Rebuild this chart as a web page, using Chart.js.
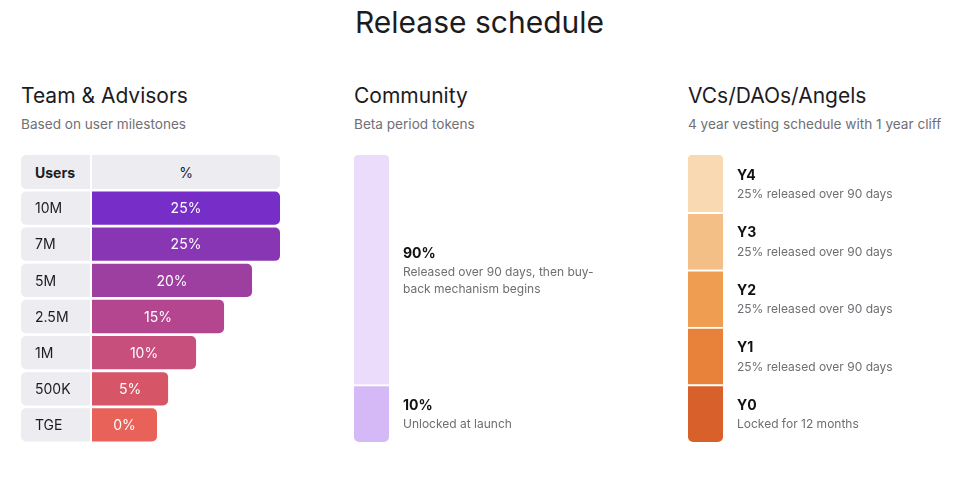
<!DOCTYPE html>
<html>
<head>
<meta charset="utf-8">
<script src="https://cdn.jsdelivr.net/npm/chart.js@4.4.1/dist/chart.umd.min.js"></script>
<style>
  body { margin: 0; width: 959px; height: 490px; background: #fff; position: relative; overflow: hidden;
         font-family: Inter, "Noto Sans", sans-serif; color: #1c1c1e; }
  .abs { position: absolute; }
  .title { left: 0; top: 5px; width: 959px; text-align: center; font-size: 30px; line-height: 34px; }
  .head { top: 84px; font-size: 21px; line-height: 24px; }
  .sub { top: 115px; font-size: 13.6px; line-height: 18px; color: #707075; }
  .cell { top: 155px; height: 34px; background: #ececf1; font-size: 14px; line-height: 35px; }
</style>
</head>
<body>
<div class="abs title">Release schedule</div>

<div class="abs head" style="left:21px">Team &amp; Advisors</div>
<div class="abs sub" style="left:21px">Based on user milestones</div>
<div class="abs head" style="left:354px">Community</div>
<div class="abs sub" style="left:354px">Beta period tokens</div>
<div class="abs head" style="left:688px">VCs/DAOs/Angels</div>
<div class="abs sub" style="left:688px">4 year vesting schedule with 1 year cliff</div>

<!-- header row of the milestone table -->
<div class="abs cell" style="left:21px;width:55px;padding-left:14px;font-weight:700;border-radius:5px 0 0 5px">Users</div>
<div class="abs cell" style="left:92px;width:188px;text-align:center;border-radius:0 5px 5px 0">%</div>

<canvas id="teamChart" class="abs" width="259" height="253" style="left:21px;top:190px"></canvas>
<canvas id="communityChart" class="abs" width="280" height="287" style="left:354px;top:155px"></canvas>
<canvas id="vcChart" class="abs" width="271" height="287" style="left:688px;top:155px"></canvas>

<script>
// Team & Advisors
const teamUsers = ['10M', '7M', '5M', '2.5M', '1M', '500K', 'TGE'];
const teamPct = [25, 25, 20, 15, 10, 5, 0];
const teamColors = ['#772ec8', '#8936b4', '#9d3fa0', '#b44690', '#c6507b', '#d65668', '#e8625a'];

// Community (bottom segment first)
const communityPct = [10, 90];
const communityTitles = ['10%', '90%'];
const communityNotes = [['Unlocked at launch'], ['Released over 90 days, then buy-', 'back mechanism begins']];
const communityColors = ['#d5b9f6', '#ebdcfb'];

// VCs/DAOs/Angels (bottom segment first)
const vcYears = ['Y0', 'Y1', 'Y2', 'Y3', 'Y4'];
const vcSpan = [1, 1, 1, 1, 1];
const vcNotes = ['Locked for 12 months', '25% released over 90 days', '25% released over 90 days',
                 '25% released over 90 days', '25% released over 90 days'];
const vcColors = ['#d8612b', '#e8823a', '#ef9e51', '#f3bf86', '#f8d9b1'];

const FONT = 'Inter, "Noto Sans", sans-serif';
Chart.defaults.font.family = FONT;

// bars start at the left of the plot, 0% still gets a stub
const teamAxisMin = -8.6;

// grey label cells and the row labels on the left
const teamCells = {
  id: 'teamCells',
  beforeDatasetsDraw(chart) {
    const ctx = chart.ctx;
    const meta = chart.getDatasetMeta(0);
    ctx.save();
    meta.data.forEach((bar, i) => {
      const top = bar.y - bar.height / 2;
      ctx.fillStyle = '#ececf1';
      ctx.beginPath();
      ctx.roundRect(0, top, 69, bar.height, [5, 0, 0, 5]);
      ctx.fill();
      ctx.fillStyle = '#1c1c1e';
      ctx.font = '14px ' + FONT;
      ctx.textBaseline = 'middle';
      ctx.textAlign = 'left';
      ctx.fillText(teamUsers[i], 14, bar.y + 1);
    });
    ctx.restore();
  },
  afterDatasetsDraw(chart) {
    const ctx = chart.ctx;
    const meta = chart.getDatasetMeta(0);
    ctx.save();
    ctx.fillStyle = '#fff';
    ctx.font = '14px ' + FONT;
    ctx.textAlign = 'center';
    ctx.textBaseline = 'middle';
    meta.data.forEach((bar, i) => {
      ctx.fillText(teamPct[i] + '%', (bar.base + bar.x) / 2, bar.y + 1);
    });
    ctx.restore();
  }
};

new Chart(document.getElementById('teamChart'), {
  type: 'bar',
  data: {
    labels: teamUsers,
    datasets: [{
      data: teamPct,
      backgroundColor: teamColors,
      base: teamAxisMin,
      minBarLength: 65,
      borderWidth: 0,
      borderSkipped: false,
      borderRadius: { topLeft: 0, bottomLeft: 0, topRight: 5, bottomRight: 5 },
      barPercentage: 0.92,
      categoryPercentage: 1
    }]
  },
  options: {
    indexAxis: 'y',
    responsive: false,
    animation: false,
    devicePixelRatio: 1,
    layout: { padding: { left: 71 } },
    scales: {
      x: { display: false, min: teamAxisMin, max: 25 },
      y: { display: false }
    },
    plugins: { legend: { display: false }, tooltip: { enabled: false } }
  },
  plugins: [teamCells]
});

// text blocks to the right of each stacked segment
function sideLabels(titles, notes) {
  return {
    id: 'sideLabels',
    afterDatasetsDraw(chart) {
      const ctx = chart.ctx;
      const x = chart.chartArea.right + 14;
      ctx.save();
      ctx.textAlign = 'left';
      ctx.textBaseline = 'middle';
      chart.data.datasets.forEach((ds, i) => {
        const bar = chart.getDatasetMeta(i).data[0];
        const c = (bar.y + bar.base) / 2;
        const lines = notes[i];
        const y0 = c - (18 + 17 * (lines.length - 1)) / 2 + 1;
        ctx.fillStyle = '#111';
        ctx.font = '700 14px ' + FONT;
        ctx.fillText(titles[i], x, y0);
        ctx.fillStyle = '#6e6e73';
        ctx.font = '12px ' + FONT;
        lines.forEach((l, j) => ctx.fillText(l, x, y0 + 19 + 17 * j));
      });
      ctx.restore();
    }
  };
}

function segment(value, color, i, n, label) {
  return {
    label: label,
    data: [value],
    backgroundColor: color,
    borderColor: '#fff',
    borderWidth: { top: i < n - 1 ? 2 : 0, bottom: 0, left: 0, right: 0 },
    borderSkipped: false,
    borderRadius: {
      topLeft: i === n - 1 ? 5 : 0, topRight: i === n - 1 ? 5 : 0,
      bottomLeft: i === 0 ? 5 : 0, bottomRight: i === 0 ? 5 : 0
    },
    barPercentage: 1,
    categoryPercentage: 1
  };
}

const stackOptions = (padRight, yScale) => ({
  responsive: false,
  animation: false,
  devicePixelRatio: 1,
  layout: { padding: { right: padRight } },
  scales: {
    x: { display: false, stacked: true },
    y: Object.assign({ display: false, stacked: true }, yScale)
  },
  plugins: { legend: { display: false }, tooltip: { enabled: false } }
});

new Chart(document.getElementById('communityChart'), {
  type: 'bar',
  data: {
    labels: ['Community'],
    datasets: communityPct.map((v, i) => segment(v, communityColors[i], i, communityPct.length, communityTitles[i]))
  },
  // the picture gives the 10% share a fifth of the column; a log scale reproduces that
  options: stackOptions(245, { type: 'logarithmic', min: Math.pow(10, 0.75), max: 100 }),
  plugins: [sideLabels(communityTitles, communityNotes)]
});

new Chart(document.getElementById('vcChart'), {
  type: 'bar',
  data: {
    labels: ['VCs'],
    datasets: vcSpan.map((v, i) => segment(v, vcColors[i], i, vcSpan.length, vcYears[i]))
  },
  options: stackOptions(236, { min: 0, max: 5 }),
  plugins: [sideLabels(vcYears, vcNotes.map(n => [n]))]
});
</script>
</body>
</html>
